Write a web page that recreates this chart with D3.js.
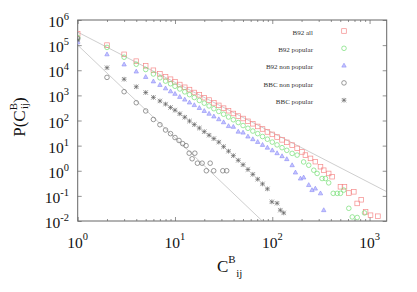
<!DOCTYPE html>
<html><head><meta charset="utf-8">
<script src="https://cdn.jsdelivr.net/npm/d3@7"></script>
<style>body{margin:0;background:#fff}svg{display:block}</style>
</head><body>
<svg id="c" width="417" height="292"></svg>
<script>
// ---- data ----
const b92AllX = [1,2,3,4,5,6,7,8,9,10,11.2,12.6,14.1,15.8,17.8,20,22.4,25.1,28.2,31.6,35.5,39.8,44.7,50.1,56.2,63.1,70.8,79.4,89.1,100,112,126,141,
  160,180,202,219,247,277,313,338,380,412,502,552,612,689,746,820,910,1023,1219];
const b92AllY = [2.8e5,1.0e5,4.3e4,2.3e4,1.5e4,1.0e4,7.2e3,5.5e3,4.4e3,3.5e3,2.7e3,2.1e3,1.7e3,1.3e3,1.05e3,810,650,500,400,310,245,190,150,120,93,74,58,46,35,28,22,17,13.5,
  10.5,7.8,5.6,4.2,3.1,2.3,1.45,1.05,0.78,0.58,0.23,0.23,0.13,0.145,0.05,0.07,0.023,0.017,0.0155];

const b92PopX = [1,2,3,4,5,6,7,8,9,10,11.2,12.6,14.1,15.8,17.8,20,22.4,25.1,28.2,31.6,35.5,39.8,44.7,50.1,56.2,63.1,70.8,79.4,89.1,100,112,126,141,
  160,180,210,237,267,289,325,352,380,423,465,502,543,612,664,746,887];
const b92PopY = [2.0e5,8.1e4,3.3e4,1.74e4,1.07e4,7.1e3,5.0e3,3.7e3,2.9e3,2.3e3,1.8e3,1.38e3,1.07e3,820,630,490,380,295,230,178,138,107,83,63,49,38,30,23,18,13.8,10.7,8.3,6.5,
  4.9,4.2,2.24,1.66,1.05,0.78,0.49,0.49,0.33,0.126,0.126,0.126,0.17,0.032,0.0145,0.0138,0.021];

const b92NonPopX = [1,2,3,4,5,6,7,8,9,10,11.2,12.6,14.1,15.8,17.8,20,22.4,25.1,28.2,31.6,35.5,39.8,44.7,50.1,56.2,63.1,70.8,79.4,89.1,100,112,126,141,
  160,173,195,210,237,256,277,313,338];
const b92NonPopY = [1.3e5,4.3e4,1.7e4,8.9e3,5.4e3,3.6e3,2.6e3,1.9e3,1.45e3,1.15e3,870,680,520,410,315,240,186,145,112,85,60,56,36,33,23,18,14,10.7,8.3,6.5,5.0,3.8,2.9,
  1.66,0.85,0.49,0.54,0.27,0.17,0.195,0.126,0.027];

const bbcNonPopX = [1,2,3,4,5,6,7,8,9,10,11,12,13,14,15,16,17,19,21,23,25,31,34];
const bbcNonPopY = [1.8e5,5.2e3,1.4e3,510,240,110,68,42,30,21,16,12,10,5,3,5,2,2,1,2,1,1,1];

const bbcPopX = [1,2,3,4,5,6,7,8,9,10,11.2,12.6,14.1,15.8,17.8,20,22.4,25.1,28.2,31.6,35.5,39.8,44.7,50.1,56.2,63.1,70.8,79.4,89.1,99,112,121,131];
const bbcPopY = [1.6e5,1.26e4,4.4e3,2.2e3,1.3e3,830,600,450,330,257,186,135,95,69,50,36,26,19,13.8,9.1,6.0,4.0,2.6,1.74,1.12,0.72,0.46,0.30,0.19,0.058,0.051,0.027,0.021];

// reference power-law guide lines (end points)
const guideAX = [1, 1500], guideAY = [3.3e5, 0.147];
const guideBX = [1, 79],   guideBY = [1e5, 0.01];

const seriesNames = ["B92 all","B92 popular","B92 non popular","BBC non popular","BBC popular"];
const xTickExps = [0,1,2,3];
const yTickExps = [-2,-1,0,1,2,3,4,5,6];

// ---- drawing ----
const svg = d3.select("#c");
svg.append("rect").attr("width",417).attr("height",292).attr("fill","#fff");
const L = 77.7, R = 386.7, T = 20, B = 221;
const x = d3.scaleLog().domain([1,1500]).range([L,R]);
const y = d3.scaleLog().domain([0.01,1e6]).range([B,T]);

svg.append("clipPath").attr("id","pc").append("rect")
  .attr("x",L).attr("y",T).attr("width",R-L).attr("height",B-T);

// guide lines
const line = d3.line().x(d=>x(d[0])).y(d=>y(d[1]));
const gl = svg.append("g").attr("clip-path","url(#pc)");
[[guideAX,guideAY],[guideBX,guideBY]].forEach(([xs,ys])=>{
  gl.append("path").attr("d", line(d3.zip(xs,ys)))
    .attr("fill","none").attr("stroke","#c8c8c8").attr("stroke-width",0.9);
});

// frame & ticks
const majorX = xTickExps.map(e=>Math.pow(10,e));
const minorX = [];
for (let e=0;e<4;e++) for (let m=2;m<=9;m++){const v=m*Math.pow(10,e); if(v<=1500) minorX.push(v);}
const majorY = yTickExps.map(e=>Math.pow(10,e));
const tickStyle = g=>{g.select(".domain").remove(); g.selectAll("line").attr("stroke","#777").attr("stroke-width",0.8);};
svg.append("g").attr("transform",`translate(0,${B})`).call(d3.axisBottom(x).tickValues(majorX).tickSize(-4).tickFormat("")).call(tickStyle);
svg.append("g").attr("transform",`translate(0,${B})`).call(d3.axisBottom(x).tickValues(minorX).tickSize(-2).tickFormat("")).call(tickStyle);
svg.append("g").attr("transform",`translate(0,${T})`).call(d3.axisTop(x).tickValues(majorX).tickSize(-4).tickFormat("")).call(tickStyle);
svg.append("g").attr("transform",`translate(0,${T})`).call(d3.axisTop(x).tickValues(minorX).tickSize(-2).tickFormat("")).call(tickStyle);
svg.append("g").attr("transform",`translate(${L},0)`).call(d3.axisLeft(y).tickValues(majorY).tickSize(-4).tickFormat("")).call(tickStyle);
svg.append("g").attr("transform",`translate(${R},0)`).call(d3.axisRight(y).tickValues(majorY).tickSize(-4).tickFormat("")).call(tickStyle);
svg.append("rect").attr("x",L).attr("y",T).attr("width",R-L).attr("height",B-T)
  .attr("fill","none").attr("stroke","#666").attr("stroke-width",1);

const serif = "'Liberation Serif','DejaVu Serif',serif";
// x tick labels
xTickExps.forEach(e=>{
  const t = svg.append("text").attr("x",x(Math.pow(10,e))).attr("y",247.5)
    .attr("text-anchor","middle").attr("font-family",serif).attr("font-size",15.5).attr("fill","#111");
  t.append("tspan").text("10");
  t.append("tspan").attr("dy",-8).attr("font-size",10.5).text(String(e));
});
// y tick labels
yTickExps.forEach(e=>{
  const t = svg.append("text").attr("x",69).attr("y",y(Math.pow(10,e))+7)
    .attr("text-anchor","end").attr("font-family",serif).attr("font-size",15.5).attr("fill","#111");
  t.append("tspan").text("10");
  t.append("tspan").attr("dy",-7).attr("font-size",10.5).text(String(e));
});

// axis titles
const xt = svg.append("text").attr("x",217).attr("y",272).attr("font-family",serif).attr("font-size",17).attr("fill","#111");
xt.append("tspan").text("C");
xt.append("tspan").attr("dy",-9).attr("font-size",11).text("B");
xt.append("tspan").attr("dy",14).attr("dx",0.5).attr("font-size",11).text("ij");

const yt = svg.append("text").attr("transform","translate(25,117) rotate(-90)").attr("text-anchor","middle")
  .attr("font-family",serif).attr("font-size",17).attr("fill","#111");
yt.append("tspan").text("P(C");
yt.append("tspan").attr("dy",-8).attr("font-size",11).text("B");
yt.append("tspan").attr("dy",11).attr("dx",-6).attr("font-size",11).text("ij");
yt.append("tspan").attr("dy",-3).attr("font-size",17).text(")");

// markers
const sty = [
  {type:"square", stroke:"#f58a8a", fill:"none"},
  {type:"circle", stroke:"#74de74", fill:"none"},
  {type:"tri",    stroke:"#8c8cf5", fill:"#c4c4ff"},
  {type:"circle", stroke:"#707070", fill:"none"},
  {type:"star",   stroke:"#606060", fill:"none"}
];
function marker(g, s, cx, cy){
  const sw = 0.7;
  if (s.type==="square") g.append("rect").attr("x",cx-2.3).attr("y",cy-2.3).attr("width",4.6).attr("height",4.6)
      .attr("fill",s.fill).attr("stroke",s.stroke).attr("stroke-width",sw);
  else if (s.type==="circle") g.append("circle").attr("cx",cx).attr("cy",cy).attr("r",2.3)
      .attr("fill",s.fill).attr("stroke",s.stroke).attr("stroke-width",sw);
  else if (s.type==="tri") g.append("path").attr("d",`M${cx},${cy-2.4}L${cx+2.2},${cy+1.5}L${cx-2.2},${cy+1.5}Z`)
      .attr("fill",s.fill).attr("stroke",s.stroke).attr("stroke-width",0.6);
  else if (s.type==="star") g.append("path")
      .attr("d",`M${cx-2.2},${cy-2.2}L${cx+2.2},${cy+2.2}M${cx-2.2},${cy+2.2}L${cx+2.2},${cy-2.2}M${cx},${cy-2.4}L${cx},${cy+2.4}M${cx-2.4},${cy}L${cx+2.4},${cy}`)
      .attr("fill","none").attr("stroke",s.stroke).attr("stroke-width",0.65);
}
const allSeries = [[b92AllX,b92AllY],[b92PopX,b92PopY],[b92NonPopX,b92NonPopY],[bbcNonPopX,bbcNonPopY],[bbcPopX,bbcPopY]];
const dg = svg.append("g").attr("clip-path","url(#pc)");
allSeries.forEach(([xs,ys],i)=>{
  const g = dg.append("g");
  xs.forEach((xv,j)=>marker(g, sty[i], x(xv), y(ys[j])));
});

// legend
seriesNames.forEach((n,i)=>{
  const cy = 32.5 + i*17.3;
  svg.append("text").attr("x",313).attr("y",cy+2.3).attr("text-anchor","end")
    .attr("font-family",serif).attr("font-size",7).attr("fill","#333").text(n);
  marker(svg.append("g"), sty[i], 344, cy-1.5);
});
</script>
</body></html>
